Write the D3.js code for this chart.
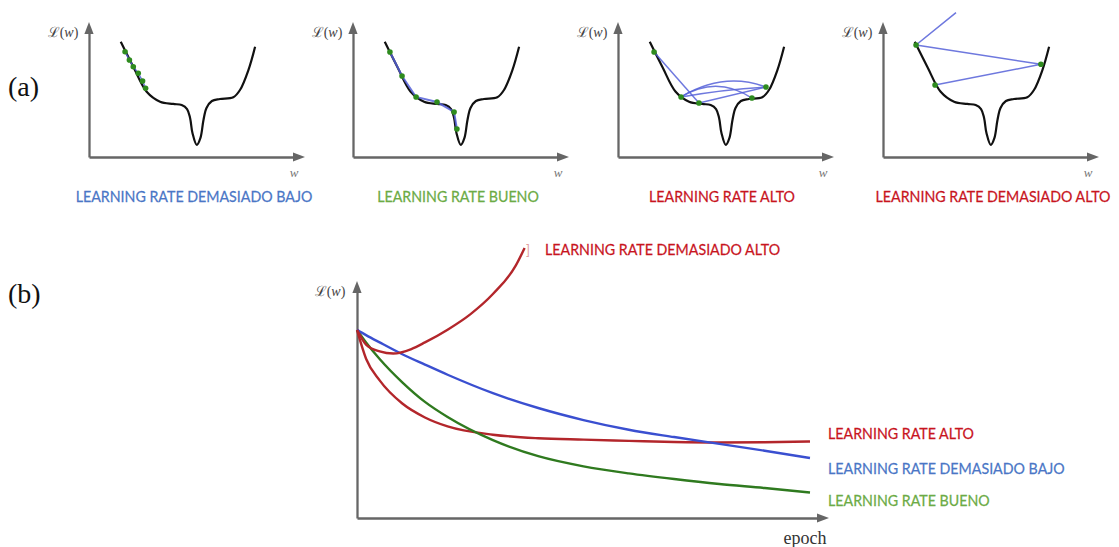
<!DOCTYPE html>
<html>
<head>
<meta charset="utf-8">
<script src="https://cdn.jsdelivr.net/npm/d3@7"></script>
<style>
  body { margin: 0; background: #fff; }
  svg { display: block; }
</style>
</head>
<body>
<svg id="fig" width="1119" height="547"></svg>
<script>
// ---------- (a) loss landscape L(w), shared by the four panels ----------
const landscapeW = [1.47, 2.05, 2.67, 3.29, 3.90, 4.29, 4.54, 4.68, 4.79, 4.99, 5.16, 5.30, 5.44, 5.69, 6.06, 6.68, 6.99, 7.38, 7.69];
const landscapeL = [8.60, 6.74, 4.87, 4.13, 3.96, 3.88, 3.58, 2.91, 1.79, 0.90, 1.42, 2.76, 3.66, 4.18, 4.33, 4.46, 5.00, 6.49, 8.23];

// gradient-descent iterates, one set per learning rate
const lowW  = [1.67, 1.87, 2.05, 2.28, 2.48, 2.62];
const lowL  = [7.86, 7.24, 6.74, 6.25, 5.67, 5.13];
const goodW = [1.71, 2.27, 2.92, 3.89, 4.68, 4.81];
const goodL = [7.84, 6.04, 4.48, 4.10, 3.36, 2.09];
const highW = [1.67, 2.92, 3.75, 6.20, 6.85];
const highL = [7.84, 4.48, 4.03, 4.40, 5.22];
// jumps between iterates: [from, to, apex of the jump (null = straight)]
const highJumps = [[0, 2, null], [2, 4, null], [4, 1, 5.62], [1, 3, 5.28], [1, 4, 4.95]];
const tooHighW = [1.53, 7.31, 2.41, 3.38];
const tooHighL = [8.36, 6.92, 5.37, 10.77];
const tooHighOrder = [2, 1, 0, 3];      // visiting order; last point leaves the plot
const tooHighDots = [0, 1, 2];

const panelTitles = ["LEARNING RATE DEMASIADO BAJO", "LEARNING RATE BUENO", "LEARNING RATE ALTO", "LEARNING RATE DEMASIADO ALTO"];

// ---------- (b) loss against epoch ----------
const epochs      = [0, 2, 5, 10, 15, 20, 30, 40, 50, 60, 70, 80, 90, 100];
const lossLow     = [7.97, 7.75, 7.44, 6.94, 6.50, 6.07, 5.29, 4.66, 4.15, 3.74, 3.43, 3.14, 2.85, 2.54];
const lossGood    = [7.97, 7.44, 6.74, 5.75, 4.92, 4.28, 3.30, 2.62, 2.19, 1.89, 1.65, 1.44, 1.27, 1.08];
const lossHigh    = [7.97, 6.75, 5.83, 4.85, 4.26, 3.88, 3.53, 3.38, 3.32, 3.27, 3.22, 3.20, 3.21, 3.24];
const epochsTooHigh = [0, 2, 5, 8, 12, 15, 20, 25, 30, 35, 37];
const lossTooHigh   = [7.97, 7.35, 7.06, 6.97, 7.16, 7.44, 7.98, 8.63, 9.49, 10.68, 11.44];

const seriesLabels = ["LEARNING RATE ALTO", "LEARNING RATE DEMASIADO BAJO", "LEARNING RATE BUENO", "LEARNING RATE DEMASIADO ALTO"];

// ---------- styling ----------
const AXIS = "#666";
const LABEL_BLUE = "#4a76c6", LABEL_GREEN = "#6cab45", LABEL_RED = "#c8141e";
const LINE_RED = "#b3262b", LINE_BLUE = "#3a4fd0", LINE_GREEN = "#2f7a1f";
const STEP_BLUE = "#5560d8", DOT_GREEN = "#2e8b1e";
const LABEL_FONT = "Lato, 'Open Sans', sans-serif";
const SERIF = "'Liberation Serif', 'DejaVu Serif', serif";
const CAPTION_SQUEEZE = 0.89;   // narrow the sans captions horizontally

const svg = d3.select("#fig");

// caption drawn at (x, y); the group is squeezed horizontally around its anchor
function caption(g, text, x, y, color, anchor) {
  return g.append("g")
    .attr("transform", `translate(${x},${y}) scale(${CAPTION_SQUEEZE},1)`)
    .append("text").attr("x", 0).attr("y", 0).attr("text-anchor", anchor)
    .attr("font-family", LABEL_FONT).attr("font-size", 16).attr("fill", color)
    .attr("stroke", color).attr("stroke-width", 0.25)
    .text(text);
}

function arrowHead(g, x, y, dir) {
  const len = 12, hw = 4.6;
  let pts;
  if (dir === "up") pts = [[x, y], [x - hw, y + len], [x + hw, y + len]];
  else pts = [[x, y], [x - len, y - hw], [x - len, y + hw]];
  g.append("path").attr("d", "M" + pts.join("L") + "Z").attr("fill", AXIS);
}

function drawAxes(g, xAxisScale, yAxisScale, tipX, tipY) {
  const y0 = yAxisScale.range()[0];
  const x0 = xAxisScale.range()[0];
  const gx = g.append("g").attr("transform", `translate(0,${y0})`)
    .call(d3.axisBottom(xAxisScale).tickValues([]).tickSizeOuter(0));
  const gy = g.append("g").attr("transform", `translate(${x0},0)`)
    .call(d3.axisLeft(yAxisScale).tickValues([]).tickSizeOuter(0));
  [gx, gy].forEach(a => a.select(".domain").attr("stroke", AXIS).attr("stroke-width", 2.3));
  arrowHead(g, x0, tipY, "up");
  arrowHead(g, tipX, y0, "right");
}

function lossLabel(g, x, y) {
  const t = g.append("text").attr("x", x).attr("y", y)
    .attr("text-anchor", "middle").attr("font-family", SERIF)
    .attr("font-size", 14).attr("fill", "#444");
  t.append("tspan").text("ℒ(");
  t.append("tspan").attr("font-style", "italic").text("w");
  t.append("tspan").text(")");
}

// ---------- (a) ----------
const panelAxisX = [89, 353, 618, 883];
const titleX = [194, 458, 722, 993];
const titleColor = [LABEL_BLUE, LABEL_GREEN, LABEL_RED, LABEL_RED];
const landscape = landscapeW.map((w, i) => [w, landscapeL[i]]);

svg.append("text").attr("x", 8).attr("y", 96).attr("font-family", SERIF)
  .attr("font-size", 28).attr("fill", "#111").text("(a)");

panelAxisX.forEach((ax, p) => {
  const g = svg.append("g");
  const x = d3.scaleLinear().domain([0, 10]).range([ax, ax + 216]);
  const y = d3.scaleLinear().domain([0, 10]).range([157, 23]);
  const xAxis = d3.scaleLinear().domain([0, 10]).range([ax, ax + 206]);
  const yAxis = d3.scaleLinear().domain([0, 10]).range([157, 33]);
  drawAxes(g, xAxis, yAxis, ax + 216, 22);

  lossLabel(g, ax - 26, 37);
  g.append("text").attr("x", ax + 205).attr("y", 177).attr("text-anchor", "middle")
    .attr("font-family", SERIF).attr("font-style", "italic").attr("font-size", 13)
    .attr("fill", "#777").text("w");

  // landscape curve
  g.append("path").datum(landscape)
    .attr("d", d3.line().x(d => x(d[0])).y(d => y(d[1])).curve(d3.curveCatmullRom.alpha(0.5)))
    .attr("fill", "none").attr("stroke", "#111").attr("stroke-width", 2.2);

  // descent steps
  const stepStyle = sel => sel.attr("fill", "none").attr("stroke", STEP_BLUE)
    .attr("stroke-width", 1.5).attr("stroke-opacity", 0.85);
  let dots = [];
  if (p === 0 || p === 1) {
    const W = p === 0 ? lowW : goodW, L = p === 0 ? lowL : goodL;
    const pts = W.map((w, i) => [w, L[i]]);
    g.append("path").datum(pts)
      .attr("d", d3.line().x(d => x(d[0])).y(d => y(d[1])))
      .call(stepStyle).attr("stroke-width", p === 1 ? 2 : 1.5);
    dots = pts;
  } else if (p === 2) {
    const pts = highW.map((w, i) => [w, highL[i]]);
    highJumps.forEach(([a, b, apex]) => {
      const [x0, y0] = [x(pts[a][0]), y(pts[a][1])];
      const [x1, y1] = [x(pts[b][0]), y(pts[b][1])];
      const path = d3.path();
      path.moveTo(x0, y0);
      if (apex === null) path.lineTo(x1, y1);
      else path.quadraticCurveTo((x0 + x1) / 2, 2 * y(apex) - (y0 + y1) / 2, x1, y1);
      g.append("path").attr("d", path.toString()).call(stepStyle);
    });
    dots = pts;
  } else {
    const pts = tooHighW.map((w, i) => [w, tooHighL[i]]);
    g.append("path").datum(tooHighOrder.map(i => pts[i]))
      .attr("d", d3.line().x(d => x(d[0])).y(d => y(d[1])))
      .call(stepStyle);
    dots = tooHighDots.map(i => pts[i]);
  }
  g.selectAll("circle.it").data(dots).join("circle")
    .attr("cx", d => x(d[0])).attr("cy", d => y(d[1])).attr("r", 2.8)
    .attr("fill", DOT_GREEN);

  caption(g, panelTitles[p], titleX[p], 202, titleColor[p], "middle");
});

// ---------- (b) ----------
svg.append("text").attr("x", 8).attr("y", 303).attr("font-family", SERIF)
  .attr("font-size", 28).attr("fill", "#111").text("(b)");

const gb = svg.append("g");
const xb = d3.scaleLinear().domain([0, 100]).range([357, 810]);
const yb = d3.scaleLinear().domain([0, 10]).range([518, 282]);
drawAxes(gb, d3.scaleLinear().domain([0, 100]).range([357, 818]),
  d3.scaleLinear().domain([0, 10]).range([518, 292]), 829, 281);
lossLabel(gb, 330, 296);
gb.append("text").attr("x", 805).attr("y", 544).attr("text-anchor", "middle")
  .attr("font-family", SERIF).attr("font-size", 18).attr("fill", "#333").text("epoch");

const lineB = d3.line().x(d => xb(d[0])).y(d => yb(d[1])).curve(d3.curveMonotoneX);
const curves = [
  { e: epochs, v: lossHigh, c: LINE_RED },
  { e: epochs, v: lossGood, c: LINE_GREEN },
  { e: epochs, v: lossLow, c: LINE_BLUE },
  { e: epochsTooHigh, v: lossTooHigh, c: LINE_RED }
];
curves.forEach(s => {
  gb.append("path").datum(s.e.map((e, i) => [e, s.v[i]]))
    .attr("d", lineB).attr("fill", "none").attr("stroke", s.c).attr("stroke-width", 2.4);
});

// series labels at the right end of each curve
const rightLabels = [
  { text: seriesLabels[0], y: 439, c: LABEL_RED },
  { text: seriesLabels[1], y: 474, c: LABEL_BLUE },
  { text: seriesLabels[2], y: 506, c: LABEL_GREEN }
];
rightLabels.forEach(l => caption(gb, l.text, 828, l.y, l.c, "start"));
gb.append("text").attr("x", 526).attr("y", 255).attr("font-family", LABEL_FONT)
  .attr("font-size", 13).attr("fill", "#e2a0a0").text("]");
caption(gb, seriesLabels[3], 545, 255, LABEL_RED, "start");
</script>
</body>
</html>
